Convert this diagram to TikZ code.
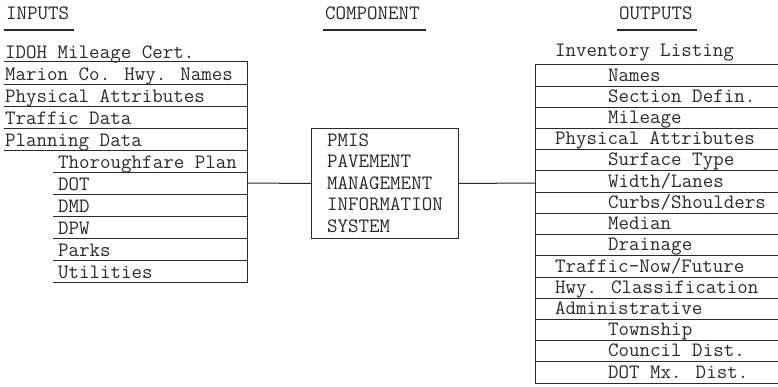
\documentclass[tikz,border=0pt]{standalone}
\usepackage{fontspec}
\definecolor{ink}{HTML}{2A2A2A}
\begin{document}
\begin{tikzpicture}[x=1pt,y=-1pt,
  txt/.style={anchor=base west,inner sep=0pt,text=ink,
    font=\ttfamily\fontsize{20.4}{22}\selectfont},
  rule/.style={draw=ink,line width=1pt},
  hdrule/.style={draw=ink,line width=1.6pt},
  compbox/.style={draw=ink,line width=1pt,anchor=north west,inner sep=0pt,
    minimum width=147pt,minimum height=110pt}]
\useasboundingbox (0,0) rectangle (778,387);

% column headings
\node[txt] (hin)   at (6,20)   {INPUTS};
\node[txt] (hcomp) at (325,20) {COMPONENT};
\node[txt] (hout)  at (619,20) {OUTPUTS};
\draw[hdrule] (4,30) -- (74,30);
\draw[hdrule] (323,30) -- (426,30);
\draw[hdrule] (617,30) -- (697,30);

% ---------------- inputs ----------------
\node[txt] (in0) at (5,59) {IDOH Mileage Cert.};
\foreach \t [count=\k] in {Marion Co. Hwy. Names,Physical Attributes,Traffic Data,Planning Data}
  \node[txt] (in\k) at (5,{62+22.05*\k-4}) {\t};
\foreach \t [count=\j from 5] in {Thoroughfare Plan,DOT,DMD,DPW,Parks,Utilities}
  \node[txt] (in\j) at (58,{62+22.05*\j-4}) {\t};
\foreach \k in {0,...,4}
  \draw[rule] (4,{62+22.05*\k}) -- (247.5,{62+22.05*\k});
\foreach \k in {5,...,10}
  \draw[rule] (53,{62+22.05*\k}) -- (247.5,{62+22.05*\k});
\draw[rule] (247.5,62) -- (247.5,282.5);
\coordinate (lbar) at (247.5,183);

% ---------------- component ----------------
\node[compbox] (pmis) at (311,128) {};
\foreach \t [count=\k from 0] in {PMIS,PAVEMENT,MANAGEMENT,INFORMATION,SYSTEM}
  \node[txt] (pmis\k) at (327,{146.5+21.4*\k}) {\t};

% ---------------- outputs ----------------
\node[txt] (out0) at (555,57) {Inventory Listing};
\foreach \t/\ind [count=\k] in {Names/1,Section Defin./1,Mileage/1,
    Physical Attributes/0,Surface Type/1,Width\slash Lanes/1,
    Curbs\slash Shoulders/1,Median/1,Drainage/1,Traffic-Now\slash Future/0,
    Hwy. Classification/0,Administrative/0,Township/1,Council Dist./1,
    DOT Mx. Dist./1}
  \node[txt] (out\k) at ({555+53*\ind},{65+21.2*\k-5}) {\t};
\foreach \k in {0,...,15}
  \draw[rule] (535,{65+21.2*\k}) -- (778,{65+21.2*\k});
\draw[rule] (535,65) -- (535,383);
\coordinate (rbar) at (535,183);

% ---------------- connectors ----------------
\draw[rule] (lbar) -- (pmis.west);
\draw[rule] (pmis.east) -- (rbar);
\end{tikzpicture}
\end{document}
